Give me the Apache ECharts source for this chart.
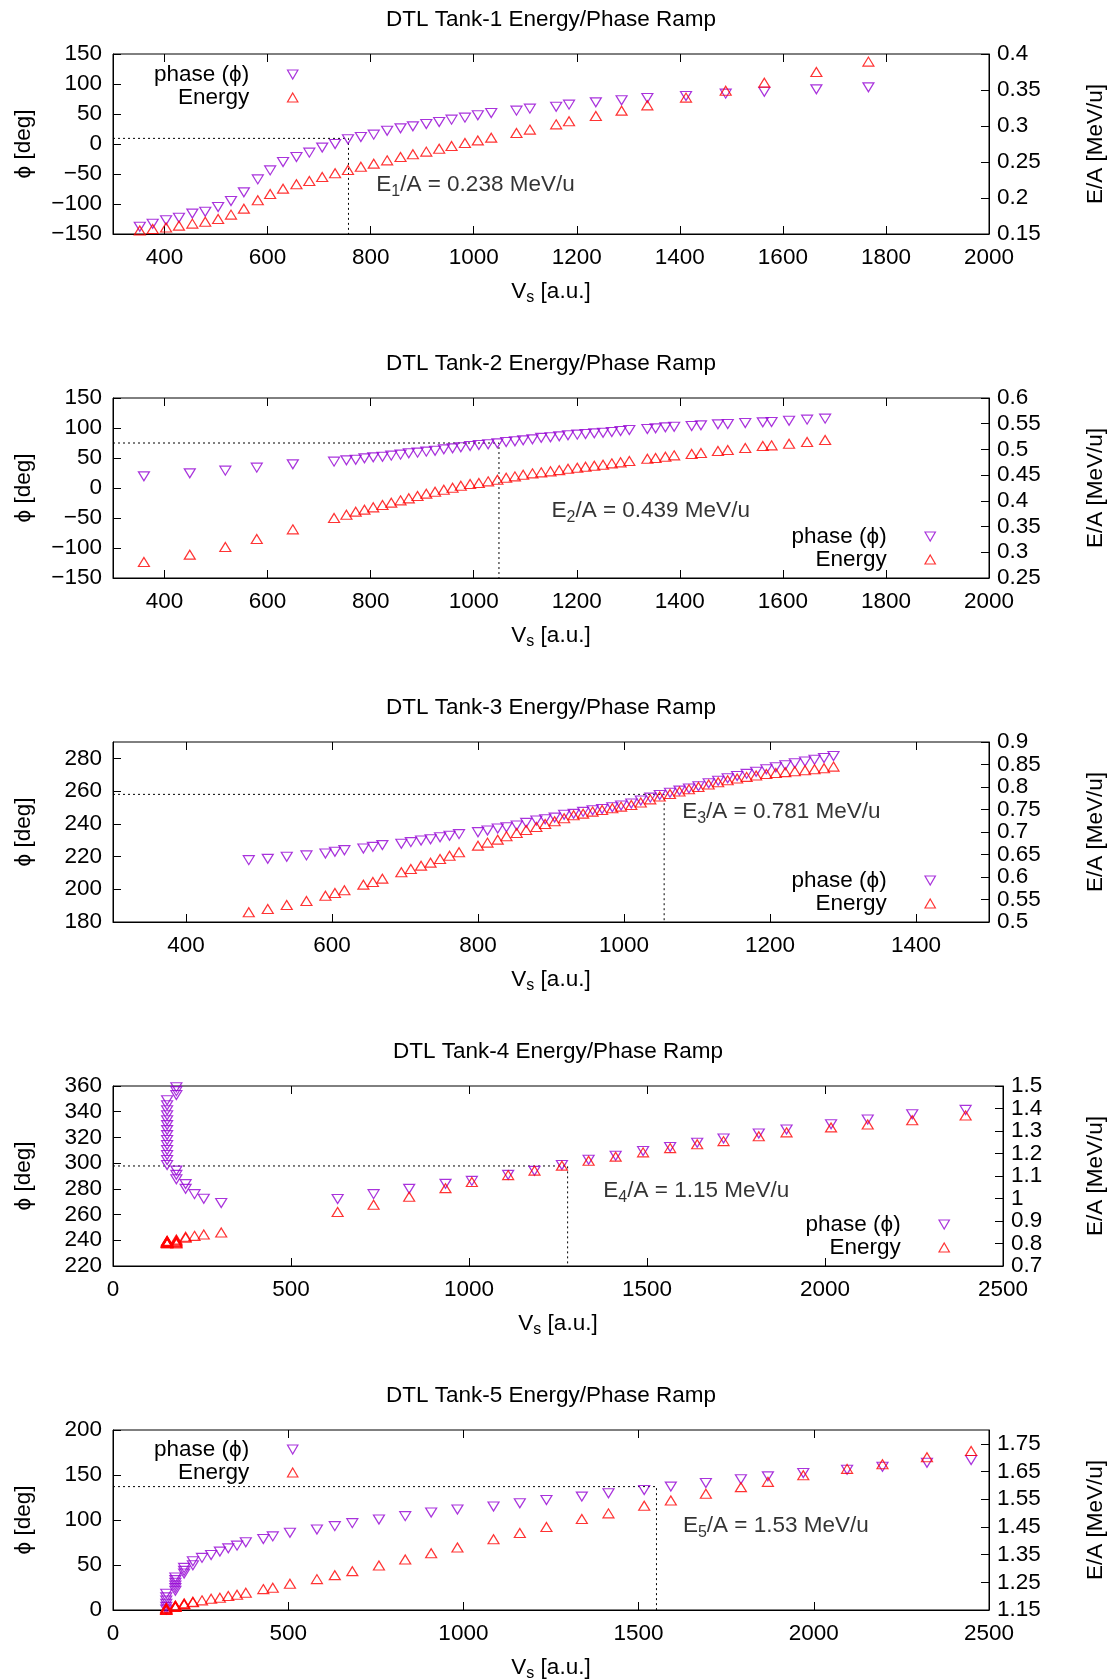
<!DOCTYPE html>
<html><head><meta charset="utf-8">
<script src="https://cdn.jsdelivr.net/npm/echarts@6/dist/echarts.min.js"></script>
<style>html,body{margin:0;padding:0;background:#fff}#c{width:1112px;height:1680px}</style>
</head><body><div id="c"></div>
<script>
// ---------------- DATA ----------------
const titles = ['DTL Tank-1 Energy/Phase Ramp','DTL Tank-2 Energy/Phase Ramp','DTL Tank-3 Energy/Phase Ramp','DTL Tank-4 Energy/Phase Ramp','DTL Tank-5 Energy/Phase Ramp'];
const seriesNames = ['phase (\u03D5)', 'Energy'];

const t1V = [352,377,403,428,454,479,504,529,554,581,605,630,656,681,706,731,756,781,806,832,858,882,908,933,957,983,1008,1034,1083,1109,1160,1185,1237,1287,1337,1412,1489,1564,1665,1766];
const t1Phi = [-138,-133,-127,-123,-116,-113,-105,-95,-80.6,-59,-44,-30,-21.7,-14.4,-6,0,7.8,11.7,15.6,22.2,26.1,29.4,33.3,36.7,40.6,43.9,47.8,51.7,55.6,58.9,62.2,65.6,69.4,72.8,76.7,80,83.9,87.2,91.1,94.4];
const t1E = [0.155,0.157,0.159,0.1616,0.1644,0.167,0.1708,0.1769,0.1852,0.1968,0.2056,0.213,0.219,0.2236,0.2292,0.2343,0.2389,0.2435,0.2477,0.2523,0.257,0.2607,0.2644,0.2685,0.2722,0.2764,0.28,0.2838,0.2903,0.295,0.3023,0.3065,0.314,0.3213,0.3287,0.3394,0.349,0.3602,0.375,0.3894];

const t2V = [360,449,518,579,649,729,753,771,788,805,823,840,858,874,891,908,925,942,959,975,993,1010,1028,1046,1063,1080,1096,1114,1131,1149,1166,1183,1201,1217,1234,1251,1268,1285,1302,1337,1353,1372,1389,1423,1441,1474,1493,1527,1561,1578,1612,1647,1682];
const t2Phi = [19.4,24.4,28.9,33.9,39.4,43.9,46.1,47.2,49.4,51.1,52.2,53.9,55.6,57.8,58.9,60.6,62.2,64.4,66.1,67.8,70,71.7,72.8,74.4,76.7,77.8,79.4,81.1,83.6,84.7,86.1,87.8,88.9,90,91.1,92.2,93.3,95,96.7,98.3,99.4,101.1,102.2,103.3,104.4,106.1,106.7,108.3,109.4,110,112.2,113.9,115.6];
const t2E = [0.2811,0.2954,0.3103,0.3258,0.3446,0.3667,0.3731,0.379,0.3829,0.3874,0.392,0.3965,0.401,0.4049,0.4094,0.414,0.4178,0.4217,0.4256,0.4295,0.4327,0.4347,0.4379,0.4411,0.445,0.4476,0.4509,0.4535,0.4554,0.4574,0.4597,0.4625,0.4645,0.4664,0.4684,0.4703,0.4729,0.4749,0.4775,0.482,0.4833,0.4859,0.4885,0.491,0.493,0.4969,0.4988,0.5027,0.5066,0.5079,0.5111,0.5144,0.5183];

const t3V = [486,512,538,565,591,604,617,643,656,669,695,708,722,735,748,761,774,800,813,827,839,853,866,880,892,905,918,931,944,957,970,984,996,1010,1023,1036,1049,1063,1076,1089,1102,1116,1129,1142,1155,1168,1181,1195,1208,1221,1234,1248,1261,1274,1287];
const t3Phi = [217.8,218.6,219.9,220.7,221.9,222.9,223.9,224.9,225.9,227,227.8,228.8,229.8,230.6,231.8,232.7,233.7,234.9,235.9,237.1,237.9,239,240.6,242,242.8,243.8,245.5,246.1,247.3,248.3,249.1,250.1,251.2,252.4,254.2,256.0,257.6,259.0,260.3,261.6,263.0,264.8,266.3,267.8,269.2,270.5,271.8,273.3,274.6,275.8,277.0,278.1,279.2,280.2,281.4];
const t3E = [0.5215,0.5289,0.5378,0.5467,0.5585,0.5645,0.5704,0.583,0.5889,0.5963,0.6104,0.6178,0.6252,0.6319,0.64,0.6474,0.6549,0.6697,0.6764,0.683,0.6904,0.6978,0.7045,0.7112,0.7179,0.7238,0.7305,0.7371,0.7408,0.7453,0.749,0.7527,0.7564,0.7601,0.7655,0.7725,0.779,0.7845,0.79,0.795,0.80,0.8055,0.8105,0.815,0.819,0.8225,0.8255,0.829,0.8312,0.833,0.835,0.8372,0.8394,0.8416,0.8453];

const t4V = [152,152,152,152,152,152,152,152,152,152,152,152,152,152,178,178,178,178,178,178,204,204,229,255,304,631,732,832,934,1008,1110,1184,1261,1336,1412,1489,1565,1641,1715,1814,1892,2017,2120,2245,2395];
const t4Phi = [348.9,345,341.1,337.3,333.4,329.6,325.7,321.8,318,314.1,310.2,306.3,302.5,298.6,359,356,353,294.2,290.9,287.5,283.7,280,275.9,272.3,269,272.1,275.9,280,283.9,286.2,290.9,294,298.5,302.7,305.8,309.4,312.5,315.9,319.2,323.1,326.2,330.3,333.9,338,341.4];
const t4E = [0.800,0.802,0.804,0.806,0.808,0.810,0.812,0.806,0.804,0.808,0.802,0.810,0.806,0.804,0.800,0.803,0.806,0.810,0.814,0.818,0.826,0.830,0.834,0.840,0.849,0.940,0.972,1.008,1.046,1.073,1.104,1.124,1.146,1.168,1.186,1.205,1.224,1.241,1.255,1.277,1.294,1.316,1.329,1.348,1.369];

const t5V = [152,152,152,152,152,152,178,178,178,178,178,178,203,203,203,228,228,254,280,305,329,354,379,429,456,505,582,633,683,759,834,908,983,1086,1161,1237,1338,1414,1516,1592,1692,1792,1869,1970,2095,2196,2323,2449];
const t5Phi = [18,14,10.5,7,3.5,0.5,36.1,33.2,30.2,27.3,24.3,21.4,46.8,43.5,40.5,54.2,49.7,57.9,61.2,64.9,68.5,71.5,75.2,78.9,81.8,85.9,89.5,93.2,96.5,100.6,104.3,108.3,111.7,115,118.7,122.3,126,129.7,133.4,137.1,141.1,145.2,148.5,152.2,155.9,159.2,163.6,166.6];
const t5E = [1.150,1.151,1.152,1.154,1.156,1.158,1.161,1.162,1.163,1.164,1.165,1.166,1.170,1.172,1.174,1.178,1.180,1.1848,1.1908,1.1944,1.2004,1.2052,1.2123,1.2255,1.2303,1.2447,1.2615,1.2759,1.2903,1.3107,1.3322,1.355,1.3754,1.4054,1.4282,1.4498,1.4785,1.4989,1.5265,1.5457,1.5697,1.5936,1.6128,1.6368,1.6596,1.6764,1.7015,1.7243];

// reference (design energy) markers
const refV = [757, 1049, 1055, 1277, 1551];
const refPhi = [9.4, 75, 258, 297.8, 137.1];
const refEnergy = ['0.238', '0.439', '0.781', '1.15', '1.53'];

// tick labels
const xTicks12 = [400,600,800,1000,1200,1400,1600,1800,2000];
const xTicks3 = [400,600,800,1000,1200,1400];
const xTicks45 = [0,500,1000,1500,2000,2500];
const yTicks12 = [-150,-100,-50,0,50,100,150];
const yTicks3 = [180,200,220,240,260,280];
const yTicks4 = [220,240,260,280,300,320,340,360];
const yTicks5 = [0,50,100,150,200];
const eTicks1 = [0.15,0.2,0.25,0.3,0.35,0.4];
const eTicks2 = [0.25,0.3,0.35,0.4,0.45,0.5,0.55,0.6];
const eTicks3 = [0.5,0.55,0.6,0.65,0.7,0.75,0.8,0.85,0.9];
const eTicks4 = [0.7,0.8,0.9,1,1.1,1.2,1.3,1.4,1.5];
const eTicks5 = [1.15,1.25,1.35,1.45,1.55,1.65,1.75];

// ---------------- LAYOUT ----------------
const FONT = '"Liberation Sans", Arial, sans-serif';
const FS = 22.5;
const PHASE_COLOR = '#9400d3', ENERGY_COLOR = '#ff0000';
const panels = [
  {V:t1V, P:t1Phi, E:t1E, top:54, width:876, xr:[300,2000], yr:[-150,150], er:[0.15,0.4], xt:xTicks12, yt:yTicks12, et:eTicks1, note:[810,-68], leg:{right:813.5, top:63}, rGap:95},
  {V:t2V, P:t2Phi, E:t2E, top:398, width:876, xr:[300,2000], yr:[-150,150], er:[0.25,0.6], xt:xTicks12, yt:yTicks12, et:eTicks2, note:[1150,-38], leg:{right:176, top:525}, rGap:95},
  {V:t3V, P:t3Phi, E:t3E, top:742, width:876, xr:[300,1500], yr:[180,290], er:[0.5,0.9], xt:xTicks3, yt:yTicks3, et:eTicks3, note:[1079,247.3], leg:{right:176, top:869}, rGap:95},
  {V:t4V, P:t4Phi, E:t4E, top:1086, width:890, xr:[0,2500], yr:[220,360], er:[0.7,1.5], xt:xTicks45, yt:yTicks4, et:eTicks4, note:[1376,278.5], leg:{right:162, top:1213}, rGap:81},
  {V:t5V, P:t5Phi, E:t5E, top:1430, width:876, xr:[0,2500], yr:[0,200], er:[1.15,1.8], xt:xTicks45, yt:yTicks5, et:eTicks5, note:[1625,93.5], leg:{right:813.5, top:1438}, rGap:95}
];
const LEFT = 113, H = 180;
const DOWN_TRI = 'path://M0,0L10,0L5,8.66Z';
const UP_TRI = 'path://M5,0L10,8.66L0,8.66Z';

const fmt = (v) => String(+(+v).toFixed(3)).replace('-', '\u2212');
const grid = [], xAxis = [], yAxis = [], series = [], legend = [], graphic = [];
const tickStyle = (vals) => ({show:true, inside:true, length:8, customValues: vals, lineStyle:{color:'#000', width:1}});
const txt = {color:'#000', fontSize:FS, fontFamily:FONT};
const labelStyle = (vals, margin) => Object.assign({customValues:vals, margin:margin, formatter:fmt,
  showMinLabel:true, showMaxLabel:true, hideOverlap:false}, txt);
const richName = {a:Object.assign({}, txt), s:Object.assign({}, txt, {fontSize:16, padding:[13,0,0,0]})};
const evenIdx = (arr) => arr.filter((_, k) => k % 2 === 0);
const oddIdx = (arr) => arr.filter((_, k) => k % 2 === 1);

panels.forEach((p, i) => {
  grid.push({left:LEFT, top:p.top, width:p.width, height:H, show:true, borderColor:'#000', borderWidth:1, outerBoundsMode:'none', containLabel:false});
  xAxis.push({type:'value', gridIndex:i, position:'bottom', min:p.xr[0], max:p.xr[1],
    axisLine:{show:true, onZero:false, lineStyle:{color:'#000', width:1}},
    axisTick: tickStyle(p.xt), axisLabel:labelStyle(p.xt, 12), splitLine:{show:false},
    name:'{a|V}{s|s}{a| [a.u.]}', nameLocation:'middle', nameGap:43,
    nameTextStyle:{rich:richName}});
  xAxis.push({type:'value', gridIndex:i, position:'top', min:p.xr[0], max:p.xr[1],
    axisLine:{show:false, onZero:false}, axisTick: tickStyle(p.xt), axisLabel:{show:false}, splitLine:{show:false}});
  // left phase axis (3i)
  yAxis.push({type:'value', gridIndex:i, position:'left', min:p.yr[0], max:p.yr[1],
    axisLine:{show:true, onZero:false, lineStyle:{color:'#000', width:1}},
    axisTick: tickStyle(p.yt), axisLabel:labelStyle(p.yt, 11), splitLine:{show:false},
    name:'\u03D5 [deg]', nameLocation:'middle', nameGap:78, nameTextStyle:Object.assign({}, txt)});
  // right energy axis (3i+1): every tick, every second label
  yAxis.push({type:'value', gridIndex:i, position:'right', min:p.er[0], max:p.er[1],
    axisLine:{show:true, onZero:false, lineStyle:{color:'#000', width:1}},
    axisTick: tickStyle(p.et), axisLabel:labelStyle(evenIdx(p.et), 8), splitLine:{show:false},
    name:'E/A [MeV/u]', nameLocation:'middle', nameGap:p.rGap, nameTextStyle:Object.assign({}, txt)});
  // right energy axis, remaining labels only (3i+2)
  yAxis.push({type:'value', gridIndex:i, position:'right', min:p.er[0], max:p.er[1],
    axisLine:{show:false, onZero:false}, axisTick:{show:false},
    axisLabel:labelStyle(oddIdx(p.et), 8), splitLine:{show:false}});

  // reference dotted lines
  series.push({type:'line', xAxisIndex:2*i, yAxisIndex:3*i, silent:true, symbol:'none', z:1,
    lineStyle:{color:'#000', width:1, type:[2,3]},
    data:[[p.xr[0], refPhi[i]], [refV[i], refPhi[i]], [refV[i], p.yr[0]]]});
  series.push({name:seriesNames[0], type:'scatter', xAxisIndex:2*i, yAxisIndex:3*i, symbol:DOWN_TRI, symbolSize:[11,9],
    itemStyle:{color:'transparent', borderColor:PHASE_COLOR, borderWidth:1.2},
    data:p.V.map((v,k)=>[v, p.P[k]])});
  series.push({name:seriesNames[1], type:'scatter', xAxisIndex:2*i, yAxisIndex:3*i+1, symbol:UP_TRI, symbolSize:[11,9],
    itemStyle:{color:'transparent', borderColor:ENERGY_COLOR, borderWidth:1.2},
    data:p.V.map((v,k)=>[v, p.E[k]])});
  // annotation
  series.push({type:'scatter', xAxisIndex:2*i, yAxisIndex:3*i, silent:true, symbolSize:1, itemStyle:{color:'transparent'},
    label:{show:true, position:'right', distance:0,
      formatter:'{a|E}{s|' + (i+1) + '}{a|/A = ' + refEnergy[i] + ' MeV/u}',
      rich:richName},
    data:[p.note]});

  legend.push({show:true, orient:'vertical', align:'right', right:p.leg.right, top:p.leg.top, padding:0, itemGap:0,
    itemWidth:11, itemHeight:9, selectedMode:false,
    textStyle:Object.assign({}, txt, {padding:[0,33,0,0], lineHeight:22}),
    data:[{name:seriesNames[0], icon:DOWN_TRI, itemStyle:{color:'transparent', borderColor:PHASE_COLOR, borderWidth:1.2}},
          {name:seriesNames[1], icon:UP_TRI, itemStyle:{color:'transparent', borderColor:ENERGY_COLOR, borderWidth:1.2}}]});

  graphic.push({type:'text', x:LEFT + p.width/2, y:p.top - 34, silent:true,
    style:{text:titles[i], fill:'#000', font: FS + 'px ' + FONT, textAlign:'center', textVerticalAlign:'middle'}});
});

const chart = echarts.init(document.getElementById('c'), null, {renderer:'canvas'});
chart.setOption({animation:false, backgroundColor:'#fff', textStyle:{fontFamily:FONT},
  grid, xAxis, yAxis, series, legend, graphic});
</script></body></html>
